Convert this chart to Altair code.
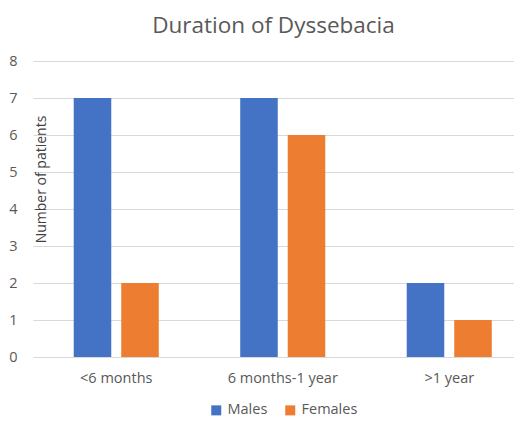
import altair as alt
import pandas as pd

categories = ["<6 months", "6 months-1 year", ">1 year"]
males = [7, 7, 2]
females = [2, 6, 1]
series = ["Males", "Females"]

rows = []
for c, m, f in zip(categories, males, females):
    rows.append({"Duration": c, "Sex": "Males", "Count": m})
    rows.append({"Duration": c, "Sex": "Females", "Count": f})
df = pd.DataFrame(rows)

GRAY = "#595959"
FONT = "Open Sans"

chart = alt.Chart(df).mark_bar().encode(
    x=alt.X("Duration:N", sort=categories,
            scale=alt.Scale(paddingInner=0, paddingOuter=0, range=[0, 499.5]),
            axis=alt.Axis(title=None, labelAngle=0, domain=False, ticks=False,
                          labelPadding=14, labelFontSize=14.5, labelColor=GRAY,
                          labelFont=FONT)),
    xOffset=alt.XOffset("Sex:N", sort=series,
                        scale=alt.Scale(paddingInner=0.21, paddingOuter=0.857)),
    y=alt.Y("Count:Q", scale=alt.Scale(domain=[0, 8]),
            axis=alt.Axis(title="Number of patients", values=list(range(9)),
                          domain=False, ticks=False, labelPadding=16,
                          labelFontSize=14.5, labelColor=GRAY, labelFont=FONT,
                          gridColor="#D9D9D9", titleFont=FONT, titleFontSize=14,
                          titleFontWeight="normal", titleColor="#404040",
                          titleAngle=-90, titleX=8, titleY=118,
                          titleBaseline="middle", titleAlign="center")),
    color=alt.Color("Sex:N", sort=series,
                    scale=alt.Scale(domain=series, range=["#4472C4", "#ED7D31"]),
                    legend=alt.Legend(title=None, orient="none", direction="horizontal",
                                      legendX=176, legendY=342, symbolType="square",
                                      symbolSize=100, symbolStrokeWidth=0,
                                      labelFontSize=14.5, labelColor=GRAY, labelFont=FONT,
                                      columnPadding=15, labelOffset=4)),
).properties(
    width=481, height=296,
    title=alt.TitleParams("Duration of Dyssebacia", fontSize=22.5, font=FONT,
                          fontWeight="normal", color=GRAY, offset=16, anchor="middle"),
    autosize=alt.AutoSizeParams(type="none"),
    padding={"left": 25, "top": 53, "right": 0, "bottom": 60},
).configure_view(stroke=None)

chart.save("out.html", embed_options={"renderer": "svg", "actions": False})
